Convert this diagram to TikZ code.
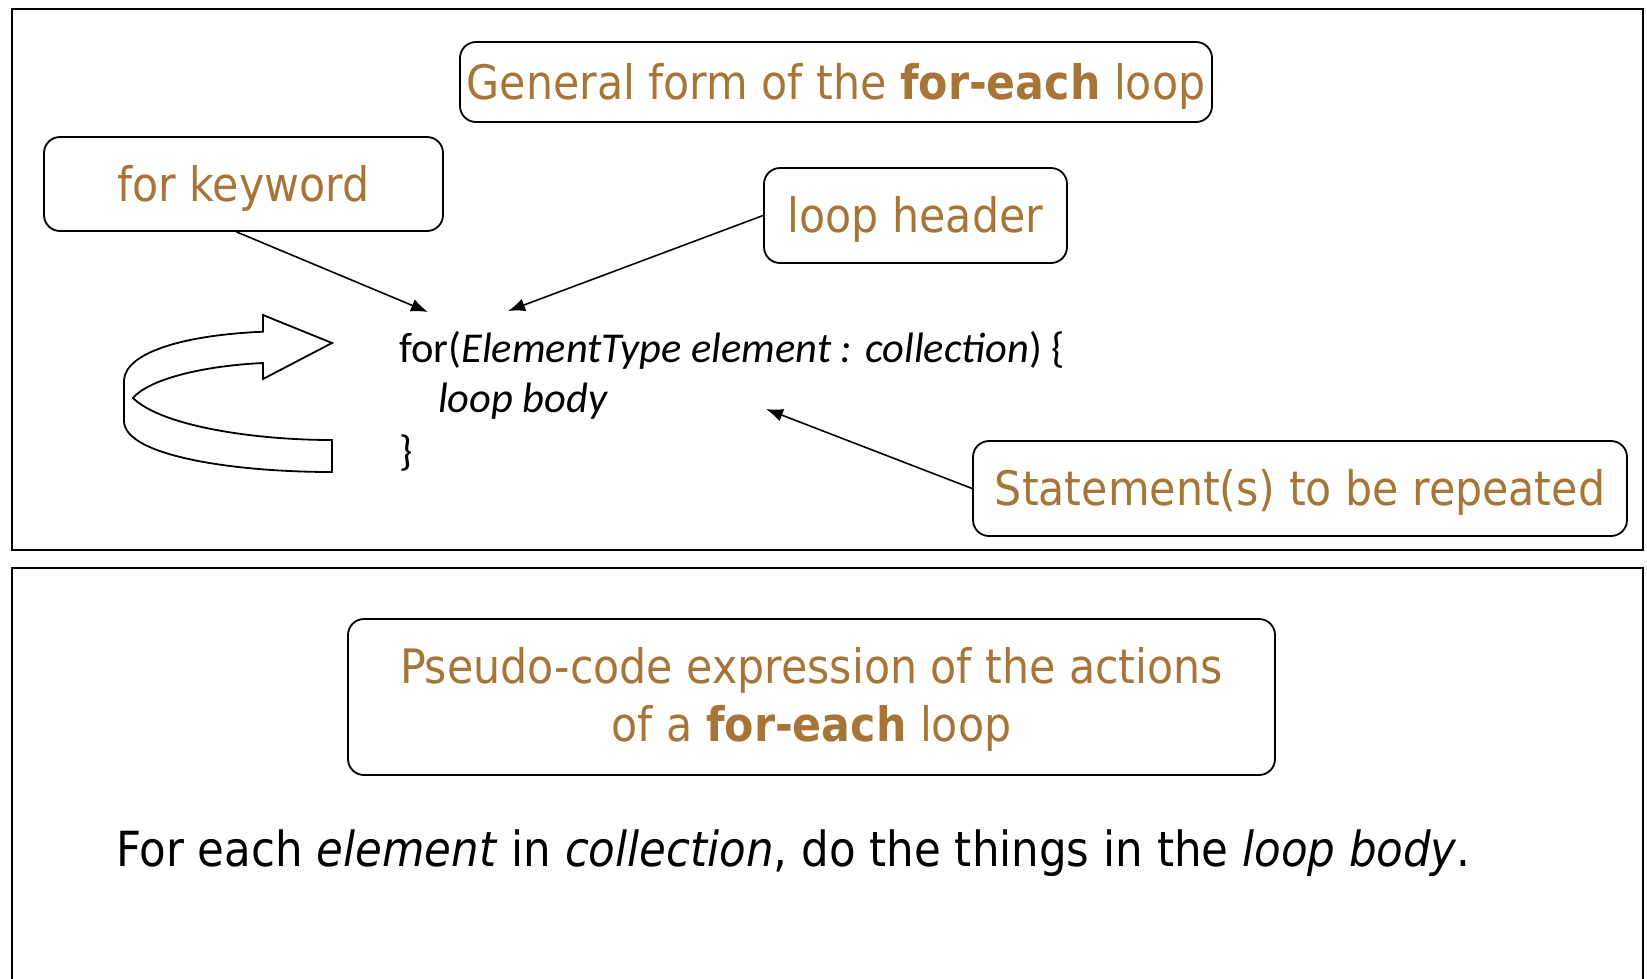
\documentclass[tikz,border=0pt]{standalone}
\usepackage{fontspec}
\usetikzlibrary{arrows.meta}
\newfontfamily\labfont{DejaVu Sans Condensed}
\newfontfamily\codefont{Carlito}
\definecolor{labbrown}{RGB}{166,117,55}
\newcommand{\droptext}[1]{\raisebox{-4pt}[\height][\depth]{#1}}
\tikzset{
  frame/.style={draw=black, line width=2pt},
  labelbox/.style={draw=black, line width=1.8pt, rounded corners=16pt, inner sep=0pt,
    font=\labfont\fontsize{47.5}{58}\selectfont, text=labbrown},
  codetext/.style={font=\codefont\fontsize{42.5}{50}\selectfont, anchor=west, inner sep=0pt, text=black},
  pointer/.style={draw=black, line width=1.6pt, -{Latex[length=17pt,width=13pt]}},
  bigarrow/.style={draw=black, line width=1.8pt, fill=white, line join=miter},
}
\begin{document}
\begin{tikzpicture}[x=1pt,y=-1pt]
\useasboundingbox (0,0) rectangle (1647,978);
% frames
\draw[frame] (11.5,8.5) rectangle (1643,550);
\draw[frame] (11.5,990) -- (11.5,568) -- (1643,568) -- (1643,990);

% label boxes
\node[labelbox, minimum width=752pt, minimum height=80pt] (title) at (836,82)
  {\droptext{General form of the \textbf{for-each} loop}};
\node[labelbox, minimum width=399pt, minimum height=94pt] (kw) at (243.5,184) {\droptext{for keyword}};
\node[labelbox, minimum width=303pt, minimum height=95pt] (hdr) at (915.5,215.5) {\droptext{loop header}};
\node[labelbox, minimum width=654pt, minimum height=95pt] (stmt) at (1300,488.5) {\droptext{Statement(s) to be repeated}};
\node[labelbox, minimum width=927pt, minimum height=156pt] (pseudo) at (811.5,697)
  {\droptext{\begin{tabular}{@{}c@{}}Pseudo-code expression of the actions\\ of a \textbf{for-each} loop\end{tabular}}};

% code
\node[codetext] (c1) at (399,350) {for(\textit{ElementType element : collection}) \{};
\node[codetext] (c2) at (438,401) {\textit{loop body}};
\node[codetext] (c3) at (399,453) {\}};

% pointer targets
\coordinate (kwtip) at (428,312);
\coordinate (hdrtip) at (508,311);
\coordinate (bodytip) at (766,409);
\draw[pointer] (kw.south) ++(-7,0) coordinate (kwfoot) -- (kwtip);
\draw[pointer] (hdr.west) -- (hdrtip);
\draw[pointer] (stmt.west) -- (bodytip);

% curved repeat arrow
\draw[bigarrow] (124,380) .. controls (126,352) and (185,335) .. (263,331.7)
  -- (263,315) -- (332,343) -- (263,379) -- (263,363)
  .. controls (200,366) and (148,380) .. (133,398)
  .. controls (160,425) and (250,440) .. (332,440)
  -- (332,472)
  .. controls (230,472) and (124,455) .. (124,421)
  -- cycle;

% bottom sentence
\node[font=\labfont\fontsize{48.4}{56}\selectfont, text=black, anchor=west, inner sep=0pt] (sentence) at (116,853)
  {For each \textit{element} in \textit{collection}, do the things in the \textit{loop body}.};
\end{tikzpicture}
\end{document}
